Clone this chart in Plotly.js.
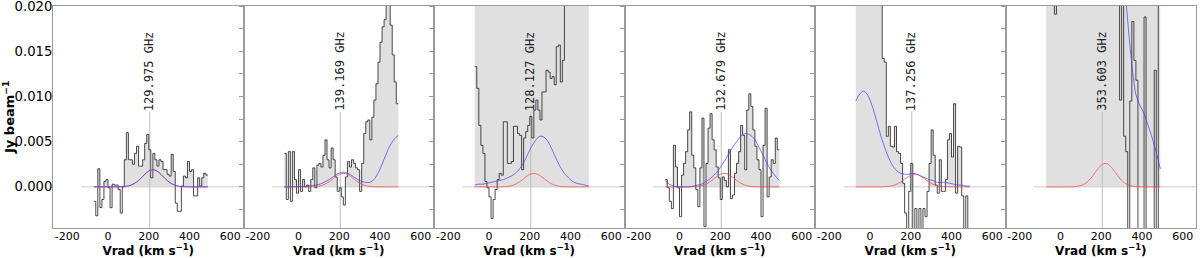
<!DOCTYPE html>
<html><head><meta charset="utf-8">
<script src="https://cdn.plot.ly/plotly-3.0.1.min.js"></script>
<style>html,body{margin:0;padding:0;background:#fff}#chart{width:1200px;height:258px}</style>
</head><body><div id="chart"></div>
<script>
// ---- data ----
const channelEdges = [-70,-60,-50,-40,-30,-20,-10,0,10,20,30,40,50,60,70,80,90,100,110,120,130,140,150,160,170,180,190,200,210,220,230,240,250,260,270,280,290,300,310,320,330,340,350,360,370,380,390,400,410,420,430,440,450,460,470,480,490];
const fitV = [-70,-50,-30,-10,10,30,50,70,90,110,130,150,170,190,210,230,250,270,290,310,330,350,370,390,410,430,450,470,490];
const lineLabels = ["129.975 GHz","139.169 GHz","128.127 GHz","132.679 GHz","137.256 GHz","353.603 GHz"];
const restVelocity = 205;
const labelLevel = 0.0083;
const baselineSpan = [-130, 665];
const xRange = [-270, 665];
const yRange = [-0.00455, 0.02001];
const xTickVals = [-200, 0, 200, 400, 600];
const xTickText = ["-200", "0", "200", "400", "600"];
const yTickVals = [0, 0.005, 0.010, 0.015, 0.020];

const spec1 = [-0.0016,-0.0032,0.0020,-0.0023,-0.0014,0.0006,0.0008,-0.0001,-0.0023,0.0003,
 0.0002,0.0002,-0.0003,-0.0029,0.0000,0.0030,0.0060,0.0030,0.0030,0.0025,
 0.0037,0.0045,0.0023,0.0023,0.0030,0.0048,0.0058,0.0041,0.0010,0.0037,
 0.0030,0.0023,0.0030,0.0028,0.0019,0.0019,0.0014,0.0012,0.0036,0.0017,
 -0.0018,-0.0027,-0.0027,0.0001,0.0012,0.0010,0.0028,0.0017,0.0019,-0.0010,
 -0.0010,0.0010,0.0001,0.0010,0.0015,0.0013];
const spec2 = [0.0037,-0.0014,0.0039,-0.0016,0.0039,0.0008,-0.0007,0.0019,-0.0005,0.0008,
 0.0000,0.0002,-0.0005,0.0008,0.0021,-0.0001,0.0024,0.0026,0.0022,0.0035,
 0.0052,0.0030,0.0021,0.0043,0.0030,0.0011,-0.0005,-0.0001,-0.0011,-0.0020,
 0.0011,0.0028,0.0022,0.0030,0.0026,0.0021,0.0019,-0.0005,0.0026,0.0059,
 0.0072,0.0074,0.0052,0.0077,0.0096,0.0114,0.0138,0.0160,0.0177,0.0185,
 0.0215,0.0210,0.0179,0.0146,0.0116,0.0092];
const spec3 = [0.0133,0.0109,0.0068,0.0046,0.0037,0.0006,-0.0001,-0.0011,-0.0035,-0.0014,
 -0.0003,0.0008,0.0015,0.0013,0.0072,0.0072,0.0026,0.0026,0.0028,0.0067,
 0.0067,0.0059,0.0057,0.0019,0.0054,0.0061,0.0068,0.0078,0.0054,0.0085,
 0.0096,0.0085,0.0074,0.0105,0.0105,0.0129,0.0127,0.0120,0.0122,0.0113,
 0.0155,0.0157,0.0116,0.0140,0.0240,0.0290,0.0330,0.0310,0.0350,0.0380,
 0.0360,0.0400,0.0420,0.0390,0.0410,0.0430];
const spec4 = [0.0008,-0.0001,-0.0016,-0.0024,0.0046,0.0022,-0.0001,-0.0033,0.0013,0.0026,
 0.0039,0.0063,0.0083,0.0035,0.0021,-0.0003,-0.0022,0.0021,0.0076,-0.0044,
 0.0026,0.0065,0.0081,0.0052,0.0041,0.0022,0.0010,-0.0014,0.0011,0.0007,
 0.0000,0.0041,-0.0013,-0.0009,0.0015,0.0026,0.0039,0.0068,0.0057,0.0019,
 0.0085,0.0103,0.0089,0.0063,0.0045,0.0030,0.0019,-0.0033,0.0046,0.0087,
 -0.0011,0.0011,0.0030,0.0026,0.0054,0.0041];
const spec5 = [0.060,0.058,0.055,0.052,0.050,0.047,0.044,0.040,0.036,0.032,
 0.028,0.025,0.022,0.0142,0.0138,0.0056,0.0067,0.0045,0.0044,0.0067,
 0.0039,0.0037,0.0026,0.0004,-0.0029,-0.0047,-0.0005,0.0026,-0.0047,-0.0024,
 -0.0047,-0.0024,-0.0047,-0.0024,-0.0033,-0.0005,0.0026,0.0063,0.0035,0.0002,
 -0.0007,0.0030,-0.0005,-0.0005,0.0008,0.0052,0.0059,0.0033,0.0092,-0.0007,
 0.0045,0.0044,-0.0010,-0.0047,-0.0010,-0.0047];
const spec6 = [0.060,0.055,0.050,0.045,0.0191,0.048,0.052,0.056,0.060,0.058,
 0.055,0.062,0.066,0.060,0.057,0.063,0.068,0.064,0.059,0.055,
 0.061,0.066,0.070,0.064,0.058,0.054,0.050,0.056,0.060,0.052,
 0.047,0.043,0.040,0.036,0.032,0.028,0.0096,0.0300,0.0056,0.0039,
 -0.0200,0.0095,0.0183,0.0140,0.0118,-0.0150,-0.0180,-0.0160,0.0188,-0.0200,
 -0.0170,-0.0190,-0.0160,0.0129,-0.0200,0.0300];
// broad shaded envelopes (panels 3 and 6 extend above the frame)
const shade3 = [0.05,0.05,0.05,0.05,0.05,0.05,0.05,0.05,0.05,0.05,0.05,0.05,0.05,0.05,0.05,0.05,0.05,0.05,0.05,0.05,0.05,0.05,0.05,0.05,0.05,0.05,0.05,0.05,0.05,0.05,0.05,0.05,0.05,0.05,0.05,0.05,0.05,0.05,0.05,0.05,0.05,0.05,0.05,0.05,0.05,0.05,0.05,0.05,0.05,0.05,0.05,0.05,0.05,0.05,0.05,0.05];
const shade6 = [0.05,0.05,0.05,0.05,0.05,0.05,0.05,0.05,0.05,0.05,0.05,0.05,0.05,0.05,0.05,0.05,0.05,0.05,0.05,0.05,0.05,0.05,0.05,0.05,0.05,0.05,0.05,0.05,0.05,0.05,0.05,0.05,0.05,0.05,0.05,0.05,0.05,0.05,0.05,0.05,0.05,0.05,0.05,0.05,0.05,0.05,0.05,0.05,0.05,0.05,0.05,0.05,0.05,0.05,0.05,0.05];

const red1 = [0,0,0,0,0,0,0,0.00002,0.00006,0.00017,0.00038,0.00071,0.00115,0.00159,0.00186,0.00186,0.00159,0.00115,0.00071,0.00038,0.00017,0.00006,0.00002,0,0,0,0,0,0];
const blue1 = [0,0,0,0,0,0,0,0.00002,0.00006,0.00017,0.00038,0.00071,0.00115,0.00159,0.00186,0.00186,0.00159,0.00115,0.00071,0.00038,0.00017,0.00006,0.00002,0,0,0,0,0,0];
const red2 = [0,0,0,0,0,0,0,0.00002,0.00005,0.00013,0.0003,0.00056,0.00091,0.00125,0.00147,0.00147,0.00125,0.00091,0.00056,0.0003,0.00013,0.00005,0.00002,0,0,0,0,0,0];
const blue2 = [0,0,0,0.00002,0.00004,0.00007,0.0001,0.00015,0.00022,0.00035,0.00055,0.0008,0.00112,0.00142,0.0016,0.0016,0.00142,0.00112,0.00082,0.00062,0.0005,0.0005,0.0008,0.0015,0.0025,0.0036,0.0046,0.0053,0.0057];
const red3 = [0,0,0,0,0,0,0,0.00002,0.00005,0.00013,0.0003,0.00056,0.00091,0.00125,0.00147,0.00147,0.00125,0.00091,0.00056,0.0003,0.00013,0.00005,0.00002,0,0,0,0,0,0];
const blue3 = [0.0002,0.0003,0.0003,0.0004,0.0005,0.0006,0.0007,0.0008,0.0010,0.0012,0.0015,0.0020,0.0027,0.0036,0.0045,0.0052,0.0056,0.0055,0.0050,0.0041,0.0031,0.0022,0.0015,0.0010,0.0006,0.0004,0.0003,0.0002,0.0001];
const red4 = [0,0,0,0,0,0,0,0.00002,0.00005,0.00013,0.0003,0.00056,0.00091,0.00125,0.00147,0.00147,0.00125,0.00091,0.00056,0.0003,0.00013,0.00005,0.00002,0,0,0,0,0,0];
const blue4 = [0.0007,0.0003,0.0001,0,0,0,0,0.0001,0.0002,0.0003,0.0006,0.0009,0.0013,0.0018,0.0025,0.0032,0.0040,0.0047,0.0053,0.0058,0.0059,0.0057,0.0052,0.0044,0.0035,0.0026,0.0018,0.0012,0.0007];
const red5 = [0,0,0,0,0,0,0,0.00002,0.00005,0.00012,0.00028,0.00052,0.00085,0.00117,0.00137,0.00137,0.00117,0.00085,0.00052,0.00028,0.00012,0.00005,0.00002,0,0,0,0,0,0];
const blue5 = [0.0095,0.0103,0.0106,0.0101,0.0090,0.0075,0.0059,0.0045,0.0033,0.0024,0.0018,0.0015,0.0014,0.0014,0.0015,0.0014,0.0012,0.0010,0.0008,0.0007,0.0005,0.0005,0.0005,0.0004,0.0003,0.0002,0.0002,0.0001,0.0001];
const red6 = [0,0,0,0,0,0,0,0.00003,0.00009,0.00023,0.00051,0.00098,0.00158,0.00217,0.00255,0.00255,0.00217,0.00158,0.00098,0.00051,0.00023,0.00009,0.00003,0,0,0,0,0,0];
const blue6V = [300,310,320,330,340,350,360,370,390,410,430,450,470,490];
const blue6 = [0.032,0.026,0.0212,0.0183,0.0158,0.0136,0.0117,0.0102,0.0090,0.0081,0.0068,0.0054,0.0038,0.0020];

// ---- build ----
const panels = [
  {spec: spec1, shade: null, red: red1, blue: blue1, blueV: fitV},
  {spec: spec2, shade: null, red: red2, blue: blue2, blueV: fitV},
  {spec: spec3, shade: shade3, red: red3, blue: blue3, blueV: fitV},
  {spec: spec4, shade: null, red: red4, blue: blue4, blueV: fitV},
  {spec: spec5, shade: null, red: red5, blue: blue5, blueV: fitV},
  {spec: spec6, shade: shade6, red: red6, blue: blue6, blueV: blue6V}
];
const withEnd = a => a.concat([a[a.length - 1]]);
const traces = [];
const layout = {
  width: 1200, height: 258,
  margin: {l: 53, r: 4, t: 6, b: 30},
  paper_bgcolor: '#fff', plot_bgcolor: '#fff',
  showlegend: false,
  font: {family: 'DejaVu Sans', color: '#000'},
  annotations: [{
    xref: 'paper', yref: 'paper', x: -0.0385, y: 0.5, xanchor: 'center', yanchor: 'middle',
    text: '<b>Jy beam<sup>−1</sup></b>', textangle: -90, showarrow: false, borderpad: 0,
    font: {family: 'DejaVu Sans', size: 13, color: '#000'}
  }],
  shapes: []
};
const n = panels.length;
panels.forEach((p, i) => {
  const sfx = i === 0 ? '' : String(i + 1);
  const xa = 'x' + sfx, ya = 'y' + sfx;
  const shadeVals = p.shade ? p.shade : p.spec.map(v => Math.max(v, 0));
  traces.push({x: channelEdges, y: withEnd(shadeVals), xaxis: xa, yaxis: ya, mode: 'lines',
    line: {shape: 'hv', width: 0, color: 'rgba(0,0,0,0)'}, fill: 'tozeroy', fillcolor: '#e0e0e0', hoverinfo: 'skip'});
  traces.push({x: baselineSpan, y: [0, 0], xaxis: xa, yaxis: ya, mode: 'lines',
    line: {color: '#cccccc', width: 1}, hoverinfo: 'skip'});
  traces.push({x: [restVelocity, restVelocity], y: [yRange[0], labelLevel], xaxis: xa, yaxis: ya, mode: 'lines',
    line: {color: '#bdbdbd', width: 1}, hoverinfo: 'skip'});
  traces.push({x: channelEdges, y: withEnd(p.spec), xaxis: xa, yaxis: ya, mode: 'lines',
    line: {shape: 'hv', color: 'rgba(30,30,30,0.8)', width: 1}});
  traces.push({x: fitV, y: p.red, xaxis: xa, yaxis: ya, mode: 'lines',
    line: {shape: 'spline', smoothing: 0.8, color: 'rgba(255,70,70,0.75)', width: 1}});
  traces.push({x: p.blueV, y: p.blue, xaxis: xa, yaxis: ya, mode: 'lines',
    line: {shape: 'spline', smoothing: 0.8, color: 'rgba(60,60,255,0.7)', width: 1}});

  layout['xaxis' + sfx] = {
    domain: [i / n, (i + 1) / n], anchor: ya, range: xRange,
    tickvals: xTickVals, ticktext: xTickText, ticks: '', showgrid: false, zeroline: false,
    showline: true, mirror: true, linecolor: '#9a9a9a', linewidth: 1,
    ticklabelstandoff: -2,
    tickfont: {size: 11, family: 'DejaVu Sans', color: '#000'},
    title: {text: 'Vrad (km s<sup>−1</sup>)', font: {size: 12, family: 'DejaVu Sans', weight: 'bold', color: '#000'}, standoff: 3},
    fixedrange: true
  };
  const yax = {
    domain: [0, 1], anchor: xa, range: yRange, showgrid: false, zeroline: false,
    showline: true, mirror: true, linecolor: '#9a9a9a', linewidth: 1, fixedrange: true
  };
  if (i === 0) {
    Object.assign(yax, {tickvals: yTickVals, tickformat: '.3f', ticks: '', ticklabeloverflow: 'allow',
      ticklabelstandoff: -3,
      tickfont: {size: 13.2, family: 'DejaVu Sans', color: '#000'}});
  } else {
    Object.assign(yax, {showticklabels: false, ticks: 'outside', ticklen: 4, tickcolor: '#9a9a9a', dtick: 0.0025, tick0: 0});
  }
  layout['yaxis' + sfx] = yax;
  layout.annotations.push({x: restVelocity, y: labelLevel, xref: xa, yref: ya, text: lineLabels[i],
    showarrow: false, textangle: -90, xanchor: 'center', yanchor: 'bottom', borderpad: 0,
    font: {family: 'DejaVu Sans Mono', size: 12, color: '#222'}});
});
Plotly.newPlot('chart', traces, layout, {staticPlot: true, displayModeBar: false});
</script>
</body></html>
